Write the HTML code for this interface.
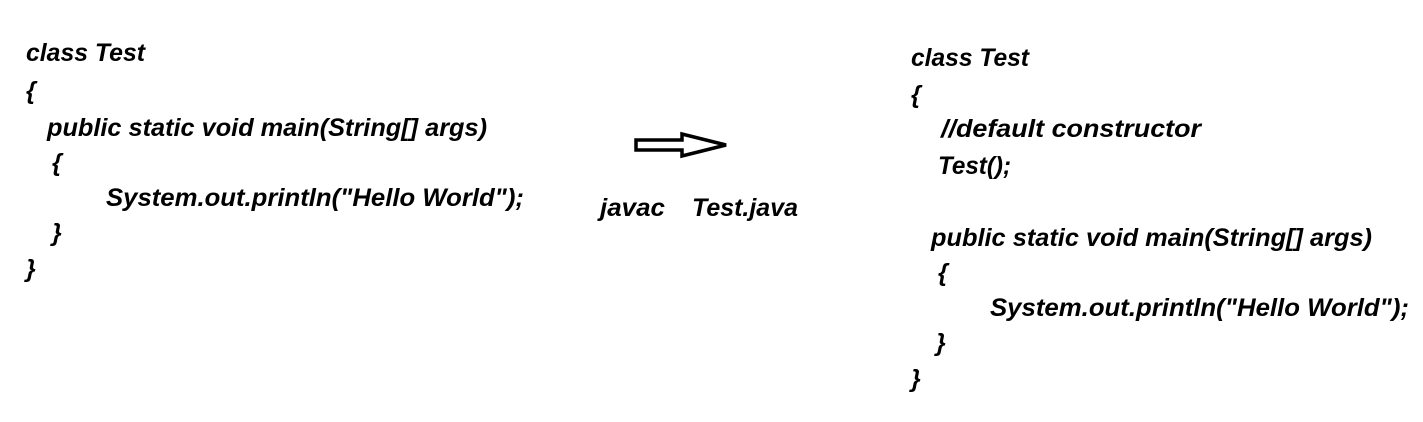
<!DOCTYPE html>
<html><head><meta charset="utf-8"><style>
html,body{margin:0;padding:0;background:#fff;width:1423px;height:422px;overflow:hidden}
text{font-family:"Liberation Sans",sans-serif;font-weight:bold;font-style:italic;font-size:25px;fill:#000}
</style></head><body>
<svg width="1423" height="422" viewBox="0 0 1423 422" xmlns="http://www.w3.org/2000/svg">
<text x="26" y="61" textLength="119" lengthAdjust="spacingAndGlyphs">class  Test</text>
<text x="26" y="99">{</text>
<text x="47" y="136" textLength="440" lengthAdjust="spacingAndGlyphs">public static void main(String[] args)</text>
<text x="52" y="171">{</text>
<text x="106" y="206" textLength="418" lengthAdjust="spacingAndGlyphs">System.out.println("Hello World");</text>
<text x="52" y="241">}</text>
<text x="26" y="277">}</text>

<text x="600" y="216" textLength="65" lengthAdjust="spacingAndGlyphs">javac</text>
<text x="692" y="216" textLength="106" lengthAdjust="spacingAndGlyphs">Test.java</text>

<text x="911" y="66" textLength="118" lengthAdjust="spacingAndGlyphs">class  Test</text>
<text x="911" y="103">{</text>
<text x="941" y="137" textLength="260" lengthAdjust="spacingAndGlyphs">//default constructor</text>
<text x="938" y="174" textLength="73" lengthAdjust="spacingAndGlyphs">Test();</text>
<text x="931" y="246" textLength="441" lengthAdjust="spacingAndGlyphs">public static void main(String[] args)</text>
<text x="938" y="281">{</text>
<text x="990" y="316" textLength="419" lengthAdjust="spacingAndGlyphs">System.out.println("Hello World");</text>
<text x="936" y="351">}</text>
<text x="911" y="387">}</text>
<polygon points="636,140 682,140 682,134 726,145 682,156 682,150 636,150" fill="#fff" stroke="#000" stroke-width="3.5" stroke-linejoin="miter"/>
</svg>
</body></html>
